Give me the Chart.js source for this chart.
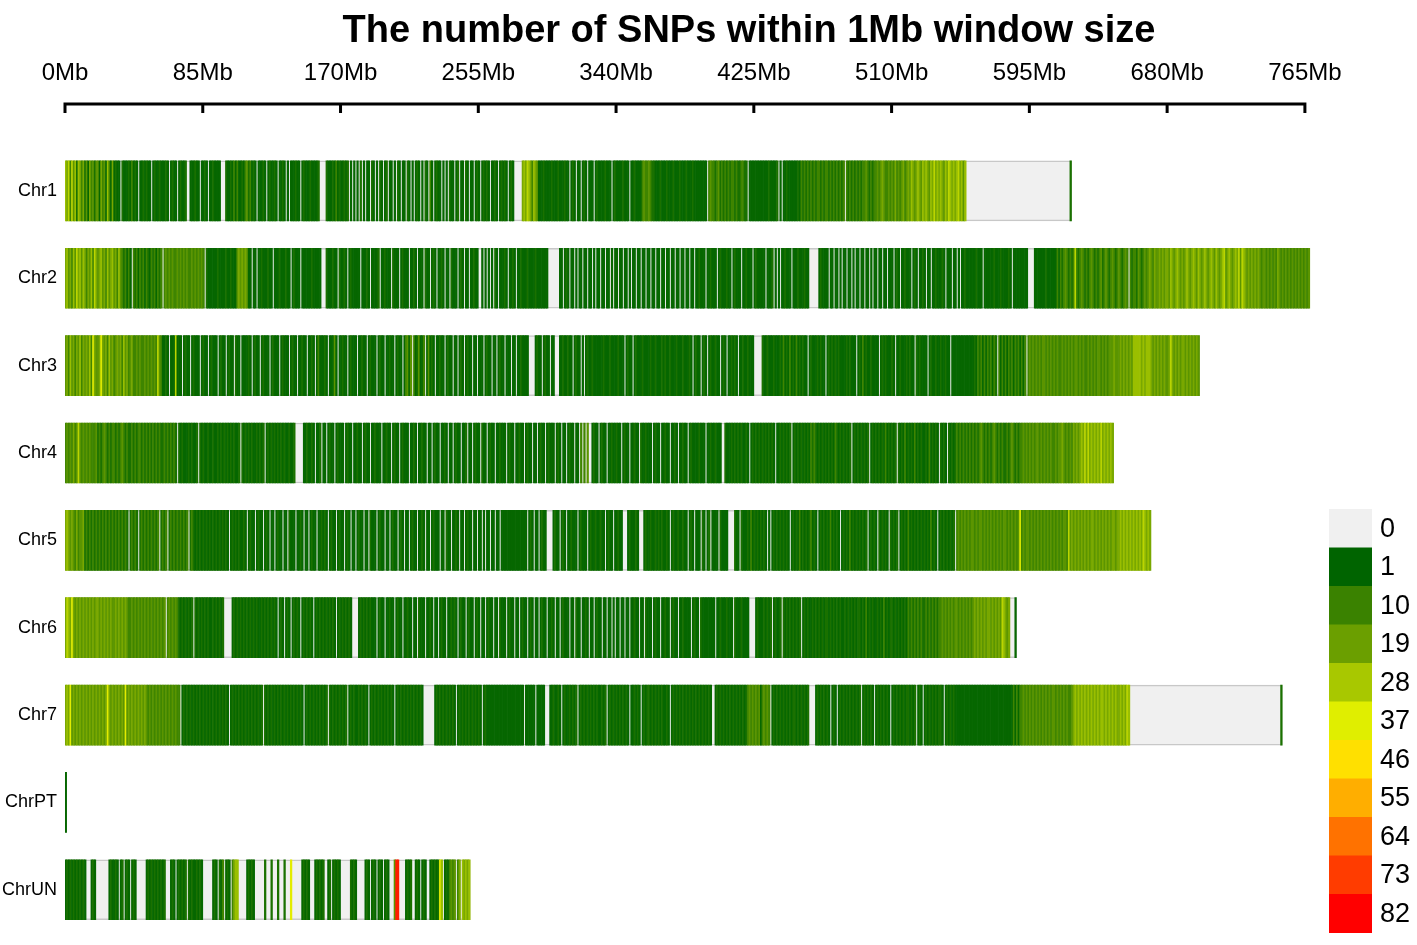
<!DOCTYPE html>
<html>
<head>
<meta charset="utf-8">
<title>SNP density</title>
<script src="https://cdn.jsdelivr.net/npm/chart.js@4.4.0/dist/chart.umd.min.js"></script>
<style>
    html, body { margin: 0; padding: 0; background: #ffffff; }
    #wrap { width: 1417px; height: 945px; }
</style>
</head>
<body>
<div id="wrap"><canvas id="snpChart" width="1417" height="945"></canvas></div>
<script>
// Chromosomes and their lengths (Mb)
const chrNames = ['Chr1', 'Chr2', 'Chr3', 'Chr4', 'Chr5', 'Chr6', 'Chr7', 'ChrPT', 'ChrUN'];
const chrLengths = [621, 768, 700, 647, 670, 587, 751, 1, 250];

// one character per 1Mb window, the digit is an index into levelCounts
const levelCounts = [0, 2, 5, 11, 16, 21, 26, 31, 38, 78];

const chr1Windows = [
    '6573746265', '3524153424', '4153416315', '1211021112', '1312101121', '2110121121', '1121012110', '1211200111',
    '2110112101', '1211110002', '1121313112', '1342312101', '1121012112', '1011210101', '1121101211', '1211112000',
    '0211121312', '1121201010', '1020101102', '1010210120', '1101021011', '0210101210', '1021031012', '1101010211',
    '0120110210', '1101210121', '2101121012', '1210121000', '0056576536', '5411121111', '2111211121', '1012101101',
    '2101110121', '1112111012', '1111211101', '1211113433', '4322111211', '1211121112', '1112111211', '1111110343',
    '3234232323', '2332322332', '2011111111', '1111211112', '0101121111', '1121323232', '3232332323', '3232323232',
    '3032323232', '3233432323', '3434543343', '4353434534', '5465456546', '5654657565', '6546576565', '6756460000',
    '0000000000', '0000000000', '0000000000', '0000000000', '0000000000', '0000000000', '2'
].join('');

const chr2Windows = [
    '5645364756', '4653546375', '4564536456', '4536432313', '1032313231', '3213231323', '0343434334', '3434343343',
    '4343430211', '1111211112', '1121114545', '4541101101', '1211121101', '1121112110', '1211101111', '1121111100',
    '0211121102', '1121012111', '1101112101', '1112011211', '1021110121', '1101121011', '1021101210', '1121011021',
    '1101210110', '1121100101', '0101021011', '1210112101', '1211121111', '2111111100', '0000011012', '1011010110',
    '1101101011', '0110110101', '1011011010', '1101101101', '1011011011', '0110110110', '1101101101', '1211101121',
    '1101211121', '1012111011', '2111012111', '1101112010', '1011211101', '1121112110', '0000012111', '1011011010',
    '1101101011', '0110110101', '1011011011', '1012101121', '1101210112', '1011011211', '1210111011', '0101121111',
    '1121110111', '1112111211', '1121011111', '1111000011', '1111121111', '1131323432', '3237323432', '3234323234',
    '2343234323', '4323430323', '3243234345', '4354454545', '5465456545', '4565456546', '5456545654', '6545674565',
    '4565747654', '5454545434', '4343434354', '3434343434', '34343434'
].join('');

const chr3Windows = [
    '4536453546', '3545463854', '4585453645', '3454536453', '4533434334', '3434343743', '1121011171', '1101211012',
    '1110121101', '2111012110', '1211021101', '1112101211', '0121110121', '1101211101', '2110112110', '1121013111',
    '2101114101', '1211012111', '0112110121', '1101211011', '2110121101', '3414031241', '1301412101', '1211012110',
    '1101210121', '1011011101', '2110110121', '1011101101', '1211110000', '1211012110', '1100011211', '2110121101',
    '0121121111', '1121112111', '1211101211', '0121112111', '1211211121', '2112111211', '1211121012', '1101210121',
    '1211012101', '1212101121', '1211100000', '2112111211', '1213121312', '1312121101', '2111212110', '1212121211',
    '1121211101', '2131211211', '1101212111', '2101121112', '1211021211', '1101211211', '2112110111', '1111111111',
    '1213231313', '2313203131', '3132313231', '3130343434', '3434434343', '4343343434', '3434434343', '3434343443',
    '4343444544', '4545454546', '6666565666', '5454545454', '4575454545', '5454545454'
].join('');

const chr4Windows = [
    '3434353474', '3434343334', '2323432323', '3232343232', '2323233232', '3232323232', '2323232320', '2121112121',
    '1202121121', '1211212121', '2121211202', '1212121121', '2120121212', '1212121121', '1200000112', '1121011201',
    '1012110121', '1101211011', '2110121101', '1211101121', '1012110121', '1101121011', '2110110121', '1011210110',
    '1211011201', '1012110211', '0121101121', '1101211011', '2110121101', '1012110121', '1101210110', '1211011030',
    '3040012110', '1211011211', '2110121101', '1211021121', '1101211011', '2110112101', '1211012111', '1211101121',
    '1211100211', '1212121211', '2101212121', '2121212101', '1212121201', '2121212121', '3232121212', '1212132121',
    '2121201212', '1212120121', '2121213121', '2120212131', '2121312121', '1213121210', '2121021212', '3232323232',
    '3232343232', '3234323232', '2323432323', '3434343434', '4343434343', '3434454343', '4354545657', '5756565657',
    '5656565'
].join('');

const chr5Windows = [
    '5654543534', '4523232323', '2323232323', '2323232320', '2323202323', '2323232302', '3230232323', '2323230232',
    '1212121212', '1212121212', '1012121211', '2101211012', '1101210110', '1211011021', '1101121011', '0121101121',
    '2101211012', '1101210110', '1211011021', '1101211011', '0121101210', '1101211011', '2101101211', '1011021101',
    '1210110121', '1011011010', '1101101101', '1111111111', '1111101210', '1101211000', '0121101210', '1121110121',
    '1101211211', '2110121101', '1211000121', '1121000121', '1211212121', '1210121121', '1211012101', '1102101201',
    '1110211110', '0002110211', '1213121212', '1210101212', '1212121012', '1213121212', '3121012121', '2131212101',
    '2121312121', '2121201212', '1021212102', '1212012121', '3121212121', '2121312101', '2121212120', '3434343434',
    '4343443434', '3434343434', '4343434348', '3434434343', '4343434343', '4343434437', '4545454545', '4545545454',
    '5454545545', '5656565656', '5656576565'
].join('');

const chr6Windows = [
    '5765854545', '4545454545', '5454545454', '4545454543', '3434343434', '3434343434', '3403434343', '2121212120',
    '2121212121', '1212121200', '0001212121', '2121212121', '1212121212', '1012101210', '1212101212', '1210121212',
    '1212121012', '1212121000', '0121212121', '1101211011', '2110121101', '1211011021', '1101121011', '0121101121',
    '2101211012', '1101210110', '1211011021', '1101211011', '0121101210', '1101211011', '2101101211', '1011021101',
    '1210110121', '1011011010', '1101101101', '1211011021', '1101211011', '2110121101', '1211110121', '1021111111',
    '1011211121', '1102111211', '1100001211', '1212120121', '1202121212', '1212012121', '1212121212', '2121212121',
    '1212121212', '2121312121', '1212131212', '2121212121', '3232323232', '2323232323', '3434343434', '4343434343',
    '4545454545', '5454545476', '5450001'
].join('');

const chr7Windows = [
    '5658454545', '4545454545', '4545458545', '4545454845', '4545454545', '4343434343', '4343434343', '3012121212',
    '1212121212', '1212121212', '1012121212', '1212121212', '1202121212', '1212121212', '1212121012', '1212121212',
    '1202121212', '1212012121', '1212121012', '1212121212', '1210121212', '1212121212', '1000000012', '1212121212',
    '1012121212', '1212121012', '1111111111', '1111111111', '1110111111', '0111110001', '1211210121', '1212120121',
    '2121212121', '1212012121', '2121212101', '1212101212', '2121212121', '1210121212', '1212121212', '1212121210',
    '0121212121', '2121212121', '2343434341', '3434301212', '1212121212', '2121212120', '0001212121', '2101210121',
    '2121212121', '2012121210', '1212121210', '1212121212', '2121201210', '1212121212', '2101212121', '1111111111',
    '1111111111', '1111111111', '1111131313', '3434343434', '3434343434', '4343434343', '3456565656', '5656565656',
    '6565656565', '5656576000', '0000000000', '0000000000', '0000000000', '0000000000', '0000000000', '0000000000',
    '0000000000', '0000000000', '0000000000', '2'
].join('');

const chrPTWindows = '1';

const chrUNWindows = [
    '1212121212', '1210001210', '0000000121', '1210120121', '0121000000', '1212121212', '1200012101', '2121202121',
    '1212100000', '0121021301', '2103566000', '0012121000', '0002000200', '0200020008', '0000001212', '1000121212',
    '0012012121', '0000002121', '0000012101', '2101210121', '0004990000', '1212001210', '1210012121', '2860121343',
    '4035065656'
].join('');

// axis ticks and colour key
const xTicks = [0, 85, 170, 255, 340, 425, 510, 595, 680, 765];
const legendBreaks = [0, 1, 10, 19, 28, 37, 46, 55, 64, 73, 82];
const legendColors = ['#f0f0f0', '#006400', '#3a8200', '#6b9f00', '#a8c800', '#e0ee00',
                      '#ffe000', '#ffae00', '#ff7200', '#ff3c00', '#ff0000'];

const chartTitle = 'The number of SNPs within 1Mb window size';

function hexToRgb(hex) {
    const n = parseInt(hex.slice(1), 16);
    return [(n >> 16) & 255, (n >> 8) & 255, n & 255];
}

// continuous colour between the key breaks
function countColor(count) {
    if (count <= 0) return legendColors[0];
    for (let i = 1; i < legendBreaks.length - 1; i++) {
        if (count < legendBreaks[i + 1]) {
            const t = (count - legendBreaks[i]) / (legendBreaks[i + 1] - legendBreaks[i]);
            const a = hexToRgb(legendColors[i]);
            const b = hexToRgb(legendColors[i + 1]);
            const c = a.map((v, k) => Math.round(v + (b[k] - v) * t));
            return `rgb(${c[0]}, ${c[1]}, ${c[2]})`;
        }
    }
    return legendColors[legendColors.length - 1];
}

const windowStrings = [chr1Windows, chr2Windows, chr3Windows, chr4Windows, chr5Windows,
                       chr6Windows, chr7Windows, chrPTWindows, chrUNWindows];

const windowBars = [];
const windowColors = [];
windowStrings.forEach((s, ci) => {
    for (let i = 0; i < s.length; i++) {
        const count = levelCounts[Number(s[i])];
        if (!count) continue;
        windowBars.push({ x: [i, Math.min(i + 1, chrLengths[ci])], y: ci });
        windowColors.push(countColor(count));
    }
});
const chromBars = chrLengths.map((len, ci) => ({ x: [0, len], y: ci }));

// title, downward axis ticks and colour key
const decorPlugin = {
    id: 'snpDecor',
    afterDraw(chart) {
        const ctx = chart.ctx;
        const xScale = chart.scales.x;
        const top = chart.chartArea.top;
        ctx.save();

        ctx.fillStyle = '#000';
        ctx.font = 'bold 38px Arial, "Liberation Sans", sans-serif';
        ctx.textAlign = 'center';
        ctx.textBaseline = 'alphabetic';
        ctx.fillText(chartTitle, 749, 42);

        ctx.strokeStyle = '#000';
        ctx.lineWidth = 3;
        ctx.beginPath();
        ctx.moveTo(xScale.getPixelForValue(xTicks[0]) - 1.5, top);
        ctx.lineTo(xScale.getPixelForValue(xTicks[xTicks.length - 1]) + 1.5, top);
        xTicks.forEach(v => {
            const px = xScale.getPixelForValue(v);
            ctx.moveTo(px, top);
            ctx.lineTo(px, top + 9);
        });
        ctx.stroke();

        const boxX = 1329, boxW = 43, boxTop = 509, boxH = 38.5;
        ctx.font = '27px Arial, "Liberation Sans", sans-serif';
        ctx.textAlign = 'left';
        ctx.textBaseline = 'middle';
        legendBreaks.forEach((b, i) => {
            ctx.fillStyle = legendColors[i];
            ctx.fillRect(boxX, boxTop + i * boxH, boxW, boxH + 0.5);
            ctx.fillStyle = '#000';
            ctx.fillText(String(b), boxX + 51, boxTop + i * boxH + boxH / 2 + 1);
        });
        ctx.restore();
    }
};

const snpChart = new Chart(document.getElementById('snpChart'), {
    type: 'bar',
    data: {
        datasets: [{
            label: 'SNP windows',
            data: windowBars,
            backgroundColor: windowColors,
            borderWidth: 0,
            barThickness: 60,
            grouped: false,
            order: 1
        }, {
            label: 'Chromosome',
            data: chromBars,
            backgroundColor: '#f0f0f0',
            borderColor: '#c8c8c8',
            borderWidth: 1.5,
            borderSkipped: false,
            barThickness: 60,
            grouped: false,
            order: 2
        }]
    },
    options: {
        indexAxis: 'y',
        responsive: false,
        animation: false,
        layout: { padding: { top: 51, left: 0, right: 104, bottom: 10 } },
        plugins: {
            legend: { display: false },
            tooltip: { enabled: false },
            title: { display: false }
        },
        scales: {
            x: {
                type: 'linear',
                position: 'top',
                min: 0,
                max: 770,
                offset: false,
                grid: { display: false, drawTicks: false },
                border: { display: false },
                afterBuildTicks: scale => { scale.ticks = xTicks.map(v => ({ value: v })); },
                afterFit: scale => { scale.height = 53; },
                ticks: {
                    autoSkip: false,
                    maxRotation: 0,
                    padding: 16,
                    color: '#000',
                    font: { family: 'Arial, "Liberation Sans", sans-serif', size: 24 },
                    callback: v => v + 'Mb'
                }
            },
            y: {
                type: 'linear',
                reverse: true,
                min: -0.995,
                max: 8.417,
                offset: false,
                grid: { display: false, drawTicks: false, offset: false },
                border: { display: false },
                afterBuildTicks: scale => { scale.ticks = chrNames.map((_, i) => ({ value: i })); },
                afterFit: scale => { scale.width = 65; },
                ticks: {
                    padding: 8,
                    color: '#000',
                    font: { family: 'Arial, "Liberation Sans", sans-serif', size: 18 },
                    callback: v => chrNames[v] || ''
                }
            }
        }
    },
    plugins: [decorPlugin]
});
</script>
</body>
</html>
